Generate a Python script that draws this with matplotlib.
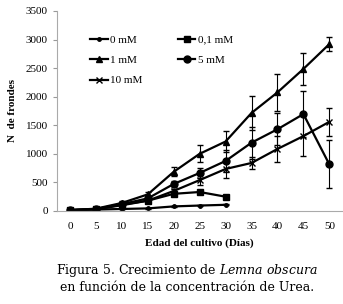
import numpy as np
import matplotlib.pyplot as plt
from matplotlib.lines import Line2D

plt.rcParams['font.family'] = ['Liberation Serif']
plt.rcParams['mathtext.fontset'] = 'dejavuserif'

# Data
dias = [0, 5, 10, 15, 20, 25, 30, 35, 40, 45, 50]
dias_corto = [0, 5, 10, 15, 20, 25, 30]

urea_0 = [15, 25, 35, 45, 80, 95, 108]
urea_01 = [15, 30, 110, 180, 300, 332, 250]
urea_1 = [15, 40, 140, 290, 685, 1000, 1215, 1715, 2075, 2485, 2920]
urea_5 = [15, 35, 120, 220, 472, 665, 875, 1195, 1430, 1695, 815]
urea_10 = [15, 30, 100, 180, 350, 540, 735, 840, 1085, 1310, 1560]

err_0 = [5, 5, 5, 10, 10, 10, 10]
err_01 = [5, 10, 20, 30, 40, 30, 30]
err_1 = [5, 10, 30, 50, 80, 150, 180, 300, 320, 280, 120]
err_5 = [5, 10, 25, 40, 60, 80, 200, 280, 280, 400, 420]
err_10 = [5, 10, 20, 30, 40, 90, 160, 100, 220, 350, 250]

fig = plt.figure(figsize=(3.43, 3.04), dpi=100)
ax = fig.add_axes([0.166, 0.306, 0.832, 0.658])

kw = dict(color='black', lw=1.6, capsize=2, elinewidth=0.8, capthick=0.8)
series = [
    (dias_corto, urea_0, err_0, 'o', 2.5, '0 mM'),
    (dias_corto, urea_01, err_01, 's', 4, '0,1 mM'),
    (dias, urea_1, err_1, '^', 4.5, '1 mM'),
    (dias, urea_5, err_5, 'o', 5, '5 mM'),
    (dias, urea_10, err_10, 'x', 5, '10 mM'),
]
handles = {}
for x, y, e, m, s, lab in series:
    ax.errorbar(x, y, yerr=e, marker=m, ms=s, mew=1, **kw)
    handles[lab] = Line2D([], [], color='black', lw=1.6, marker=m, ms=s, mew=1)

order = ['0 mM', '1 mM', '10 mM', '0,1 mM', '5 mM']
ax.legend([handles[k] for k in order], order, ncol=2, loc='upper left',
          bbox_to_anchor=(0.08, 0.93), frameon=False, fontsize=8,
          handlelength=1.6, handletextpad=0.2, columnspacing=3.2, labelspacing=0.95)

ax.set_xlim(-2.5, 52.5)
ax.set_ylim(0, 3500)
ax.set_xticks(dias)
ax.set_yticks(np.arange(0, 3501, 500))
ax.tick_params(axis='both', labelsize=8, color='#999999', length=3)
ax.tick_params(axis='x', length=0, pad=8)
for s in ['top', 'right']:
    ax.spines[s].set_visible(False)
for s in ['left', 'bottom']:
    ax.spines[s].set_color('#aaaaaa')

ax.set_ylabel('N  de frondes', fontsize=8, fontweight='bold', labelpad=6)
ax.set_xlabel('Edad del cultivo (Días)', fontsize=8, fontweight='bold', labelpad=5)

fig.text(0.545, 0.1, 'Figura 5. Crecimiento de $\\it{Lemna\\ obscura}$',
         ha='center', fontsize=9, family='DejaVu Serif')
fig.text(0.545, 0.042, 'en función de la concentración de Urea.',
         ha='center', fontsize=9, family='DejaVu Serif')

fig.savefig('out.png', dpi=100)
